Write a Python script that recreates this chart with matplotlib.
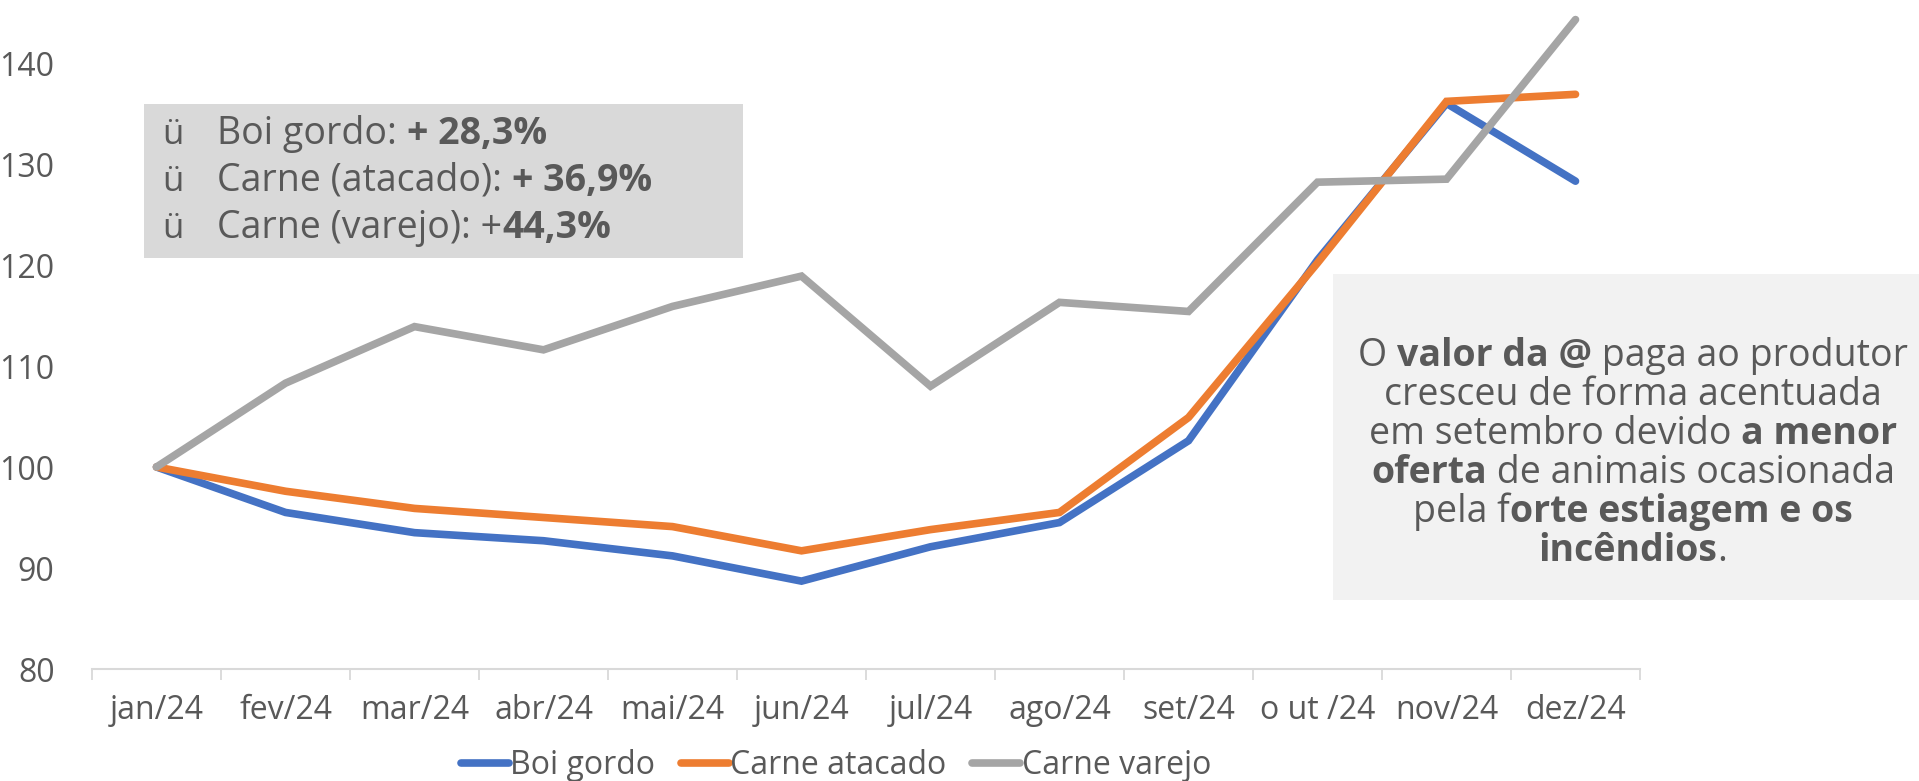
import matplotlib
matplotlib.use("Agg")
import matplotlib.pyplot as plt
from matplotlib.patches import Rectangle
from matplotlib.ticker import FixedLocator

# ---------------- data ----------------
months = ["jan/24", "fev/24", "mar/24", "abr/24", "mai/24", "jun/24",
          "jul/24", "ago/24", "set/24", "o ut /24", "nov/24", "dez/24"]
boi_gordo = [100.0, 95.5, 93.5, 92.7, 91.2, 88.7, 92.1, 94.5, 102.6, 120.5, 136.0, 128.3]
carne_atacado = [100.0, 97.6, 95.9, 95.0, 94.1, 91.7, 93.8, 95.5, 104.9, 120.2, 136.2, 136.9]
carne_varejo = [100.0, 108.3, 113.9, 111.6, 115.9, 118.9, 108.0, 116.3, 115.4, 128.2, 128.5, 144.3]
series_names = ["Boi gordo", "Carne atacado", "Carne varejo"]
y_ticks = [80, 90, 100, 110, 120, 130, 140]

colors = ["#4472C4", "#ED7D31", "#A5A5A5"]
TXT = "#595959"
FONT = "Open Sans"

W, H = 1919, 781
fig = plt.figure(figsize=(W / 100, H / 100), dpi=100)
plt.rcParams["font.family"] = [FONT, "DejaVu Sans"]

ax = fig.add_axes([92 / W, (H - 669) / H, (1640 - 92) / W, 669 / H])
x = list(range(len(months)))
for vals, name, c in zip([boi_gordo, carne_atacado, carne_varejo], series_names, colors):
    ax.plot(x, vals, color=c, lw=5.5, solid_capstyle="round", solid_joinstyle="miter", label=name, zorder=3)

ax.set_xlim(-0.5, len(months) - 0.5)
ax.set_ylim(80, 80 + 669 / 10.1)
ax.set_yticks(y_ticks)
ax.set_yticklabels([str(v) for v in y_ticks])
ax.set_xticks(x)
ax.set_xticklabels(months)
ax.xaxis.set_minor_locator(FixedLocator([i - 0.5 for i in range(len(months) + 1)]))
ax.tick_params(axis="x", which="major", length=0, pad=18, labelsize=23, labelcolor=TXT)
ax.tick_params(axis="x", which="minor", length=8, width=1.3, color="#D9D9D9")
ax.tick_params(axis="y", length=0, pad=27, labelsize=23, labelcolor=TXT)
for s in ["top", "right", "left"]:
    ax.spines[s].set_visible(False)
ax.spines["bottom"].set_color("#D9D9D9")
ax.spines["bottom"].set_linewidth(1.5)
ax.patch.set_alpha(0)

leg = fig.legend(loc="center", bbox_to_anchor=(836 / W, (H - 766) / H), ncol=3, frameon=False,
                 fontsize=23, handlelength=1.5, handletextpad=0.05, columnspacing=0.8,
                 labelcolor=TXT, borderaxespad=0)

# ---------------- annotation boxes ----------------
fig.add_artist(Rectangle((144 / W, (H - 258) / H), (743 - 144) / W, (258 - 104) / H,
                         transform=fig.transFigure, facecolor="#D9D9D9", edgecolor="none", zorder=5))
fig.add_artist(Rectangle((1333 / W, (H - 600) / H), (W - 1333) / W, (600 - 274) / H,
                         transform=fig.transFigure, facecolor="#F2F2F2", edgecolor="none", zorder=5))

fig.canvas.draw()
renderer = fig.canvas.get_renderer()


def seg_width(s, bold, size):
    w = "bold" if bold else "normal"
    t = fig.text(0, 0, s + "|", fontsize=size, fontweight=w, family=FONT, transform=None)
    t2 = fig.text(0, 0, "|", fontsize=size, fontweight=w, family=FONT, transform=None)
    wd = t.get_window_extent(renderer).width - t2.get_window_extent(renderer).width
    t.remove(); t2.remove()
    return wd


def rich(xpix, ytop, segs, size, ha="left"):
    widths = [seg_width(s, b, size) for s, b in segs]
    total = sum(widths)
    x0 = xpix - total / 2 if ha == "center" else xpix
    for (s, b), wd in zip(segs, widths):
        fig.text(x0, H - ytop, s, fontsize=size, fontweight="bold" if b else "normal", family=FONT,
                 color=TXT, transform=None, va="baseline", ha="left", zorder=6)
        x0 += wd


box1_lines = [
    [("Boi gordo: ", False), ("+ 28,3%", True)],
    [("Carne (atacado): ", False), ("+ 36,9%", True)],
    [("Carne (varejo): +", False), ("44,3%", True)],
]
b1_base = [144, 191, 238]
for segs, yb in zip(box1_lines, b1_base):
    fig.text(162, H - yb, "ü", fontsize=25, family=FONT, color=TXT, transform=None, va="baseline", zorder=6)
    rich(217, yb, segs, 27)

box2_lines = [
    [("O ", False), ("valor da @", True), (" paga ao produtor", False)],
    [("cresceu de forma acentuada", False)],
    [("em setembro devido ", False), ("a menor", True)],
    [("oferta", True), (" de animais ocasionada", False)],
    [("pela f", False), ("orte estiagem e os", True)],
    [("incêndios", True), (".", False)],
]
b2_base = [366, 405, 444, 483, 522, 561]
for segs, yb in zip(box2_lines, b2_base):
    rich(1633, yb, segs, 27, ha="center")

fig.savefig("out.png", dpi=100)
